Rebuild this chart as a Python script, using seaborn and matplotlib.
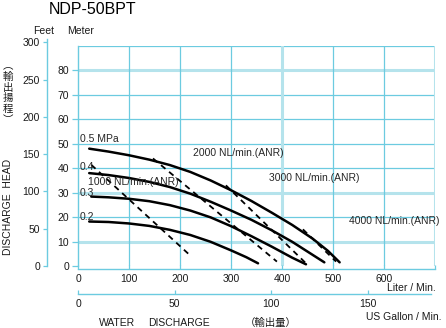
import matplotlib
matplotlib.use("Agg")
import matplotlib.pyplot as plt
import seaborn as sns
import pandas as pd

# ---------------- data (Liter/min, head in meter) ----------------
p05_l = [22, 60, 100, 140, 180, 220, 260, 300, 340, 380, 420, 460, 490, 513]
p05_m = [48, 46.8, 45.3, 43.5, 41.3, 38.5, 35, 31, 26.6, 21.8, 16.8, 11.2, 6.2, 1.5]
p04_l = [22, 60, 100, 140, 180, 220, 260, 300, 340, 380, 420, 450, 483]
p04_m = [38, 37.2, 36, 34.4, 32.3, 29.6, 26.3, 22.7, 18.9, 14.6, 9.9, 5.9, 1.5]
p03_l = [26, 60, 100, 140, 180, 220, 260, 300, 340, 380, 420, 447]
p03_m = [28.4, 28.1, 27.5, 26.5, 24.9, 22.7, 19.9, 16.3, 12.2, 7.9, 3.4, 0.7]
p02_l = [22, 60, 100, 140, 180, 220, 260, 300, 330, 353]
p02_m = [18.2, 18, 17.4, 16.4, 14.8, 12.7, 9.9, 6.4, 3.6, 1.1]

air1000_l = [26, 219]
air1000_m = [41.4, 4.5]
air2000_l = [147, 390]
air2000_m = [44, 1.8]
air3000_l = [290, 447]
air3000_m = [33, 1.1]
air4000_l = [441, 506]
air4000_m = [15, 1.8]

pressure_labels = ["0.5 MPa", "0.4", "0.3", "0.2"]
air_labels = ["1000 NL/min.(ANR)", "2000 NL/min.(ANR)",
              "3000 NL/min.(ANR)", "4000 NL/min.(ANR)"]
meter_ticks = [0, 10, 20, 30, 40, 50, 60, 70, 80]
feet_ticks = [0, 50, 100, 150, 200, 250, 300]
liter_ticks = [0, 100, 200, 300, 400, 500, 600, 700]
liter_ticklabels = ["0", "100", "200", "300", "400", "500", "600", ""]
gallon_ticks = [0, 50, 100, 150]

# ---------------- style ----------------
sns.set_theme(style="white")
plt.rcParams["font.family"] = ["Liberation Sans", "Noto Sans CJK JP"]

W, H = 446, 328
fig = plt.figure(figsize=(W / 100, H / 100), dpi=100)
fig.patch.set_facecolor("white")

def fx(x):
    return x / W

def fy(y):
    return 1 - y / H

def px(x, y):
    return (fx(x), fy(y))

CYAN = "#6ccbe0"
LCYAN = "#b5e3ec"
FS = 7.5
TXT = "#1a1a1a"

# main axes : liter 0..700 (x 78..435), meter 0..90 (y 266..46)
ax = fig.add_axes([fx(78), fy(266), 357 / W, 220 / H])
ax.set_xlim(0, 700)
ax.set_ylim(0, 90)
ax.set_facecolor("none")
for s in ["top", "right", "bottom"]:
    ax.spines[s].set_visible(False)
ax.spines["left"].set_color(CYAN)
ax.spines["left"].set_linewidth(1.0)

thick_h = [10, 30, 80]
thick_v = [400, 700]
for m in range(10, 100, 10):
    if m in thick_h:
        ax.axhline(m, color=LCYAN, lw=2.2, zorder=0)
    else:
        ax.axhline(m, color=CYAN, lw=0.9, zorder=0)
for l in range(100, 800, 100):
    if l in thick_v:
        ax.axvline(l, color=LCYAN, lw=2.2, zorder=0)
    else:
        ax.axvline(l, color=CYAN, lw=0.9, zorder=0)

ax.set_xticks([])
ax.set_yticks(meter_ticks)
ax.set_yticklabels([str(t) for t in meter_ticks])
ax.tick_params(axis="y", direction="out", length=4.5, width=0.9,
               color=CYAN, pad=2, labelsize=FS, labelcolor=TXT, left=True)

# performance curves
curves = pd.concat([
    pd.DataFrame({"liter": p05_l, "head": p05_m, "p": "0.5"}),
    pd.DataFrame({"liter": p04_l, "head": p04_m, "p": "0.4"}),
    pd.DataFrame({"liter": p03_l, "head": p03_m, "p": "0.3"}),
    pd.DataFrame({"liter": p02_l, "head": p02_m, "p": "0.2"}),
])
sns.lineplot(data=curves, x="liter", y="head", units="p", estimator=None,
             sort=False, color="black", lw=1.8, ax=ax, legend=False, zorder=3)

airs = pd.concat([
    pd.DataFrame({"liter": air1000_l, "head": air1000_m, "a": "1000"}),
    pd.DataFrame({"liter": air2000_l, "head": air2000_m, "a": "2000"}),
    pd.DataFrame({"liter": air3000_l, "head": air3000_m, "a": "3000"}),
    pd.DataFrame({"liter": air4000_l, "head": air4000_m, "a": "4000"}),
])
for key, g in airs.groupby("a"):
    sns.lineplot(data=g, x="liter", y="head", estimator=None, sort=False,
                 color="black", lw=1.3, ax=ax, legend=False, zorder=3,
                 linestyle=(0, (3.2, 2.6)))
ax.set_xlabel("")
ax.set_ylabel("")

# feet axis
ft_h = 305 * 0.3048 * (220 / 90)
fax = fig.add_axes([fx(47), fy(266), 0.0005, ft_h / H])
fax.set_ylim(0, 305)
fax.set_xticks([])
fax.set_facecolor("none")
for s in ["top", "right", "bottom"]:
    fax.spines[s].set_visible(False)
fax.spines["left"].set_color(CYAN)
fax.spines["left"].set_linewidth(1.0)
fax.set_yticks(feet_ticks)
fax.set_yticklabels([str(t) for t in feet_ticks])
fax.tick_params(axis="y", direction="out", length=3, width=0.9, color=CYAN,
                pad=2, labelsize=FS, labelcolor=TXT, left=True)

# liter axis
lax = fig.add_axes([fx(78), fy(269), 357 / W, 0.0005])
lax.set_xlim(0, 700)
lax.set_yticks([])
lax.set_facecolor("none")
for s in ["top", "right", "left"]:
    lax.spines[s].set_visible(False)
lax.spines["bottom"].set_color(CYAN)
lax.spines["bottom"].set_linewidth(1.0)
lax.set_xticks(liter_ticks)
lax.set_xticklabels(liter_ticklabels)
lax.tick_params(axis="x", direction="in", length=3, width=0.9, color=CYAN,
                pad=3.5, labelsize=FS, labelcolor=TXT, bottom=True)

# gallon axis
gax = fig.add_axes([fx(78), fy(294), 357 / W, 0.0005])
gax.set_xlim(0, 700 / 3.785)
gax.set_yticks([])
gax.set_facecolor("none")
for s in ["top", "right", "left"]:
    gax.spines[s].set_visible(False)
gax.spines["bottom"].set_color(CYAN)
gax.spines["bottom"].set_linewidth(1.0)
gax.spines["bottom"].set_bounds(0, 183)
gax.set_xticks(gallon_ticks)
gax.set_xticklabels([str(t) for t in gallon_ticks])
gax.tick_params(axis="x", direction="in", length=3, width=0.9, color=CYAN,
                pad=3.5, labelsize=FS, labelcolor=TXT, bottom=True)

# texts
fig.text(*px(93, 9), "NDP-50BPT", fontsize=11.5, ha="center", va="center", color="black")
fig.text(*px(33, 31), "Feet", fontsize=FS, ha="left", va="center", color=TXT)
fig.text(*px(67, 31), "Meter", fontsize=FS, ha="left", va="center", color=TXT)

fig.text(*px(80, 139), pressure_labels[0], fontsize=FS, ha="left", va="center")
fig.text(*px(80, 167), pressure_labels[1], fontsize=FS, ha="left", va="center")
fig.text(*px(80, 193), pressure_labels[2], fontsize=FS, ha="left", va="center")
fig.text(*px(80, 217), pressure_labels[3], fontsize=FS, ha="left", va="center")

fig.text(*px(88, 182), air_labels[0], fontsize=FS, ha="left", va="center")
fig.text(*px(193, 153), air_labels[1], fontsize=FS, ha="left", va="center")
fig.text(*px(269, 178), air_labels[2], fontsize=FS, ha="left", va="center")
fig.text(*px(349, 221), air_labels[3], fontsize=FS, ha="left", va="center")

fig.text(*px(436, 288), "Liter / Min.", fontsize=FS, ha="right", va="center", color=TXT)
fig.text(*px(441, 317), "US Gallon / Min.", fontsize=FS, ha="right", va="center", color=TXT)
fig.text(*px(99, 323), "WATER", fontsize=FS, ha="left", va="center", color=TXT)
fig.text(*px(148, 323), "DISCHARGE", fontsize=FS, ha="left", va="center", color=TXT)
fig.text(*px(245, 323), "（輸出量）", fontsize=FS, ha="left", va="center", color=TXT)

fig.text(*px(8, 207), "DISCHARGE  HEAD", fontsize=FS, rotation=90,
         ha="center", va="center", color=TXT)
fig.text(*px(8, 93), "︵\n輸\n出\n揚\n程\n︶", fontsize=7.5, ha="center", va="center",
         linespacing=1.1, color=TXT)

fig.savefig("out.png", dpi=100)
